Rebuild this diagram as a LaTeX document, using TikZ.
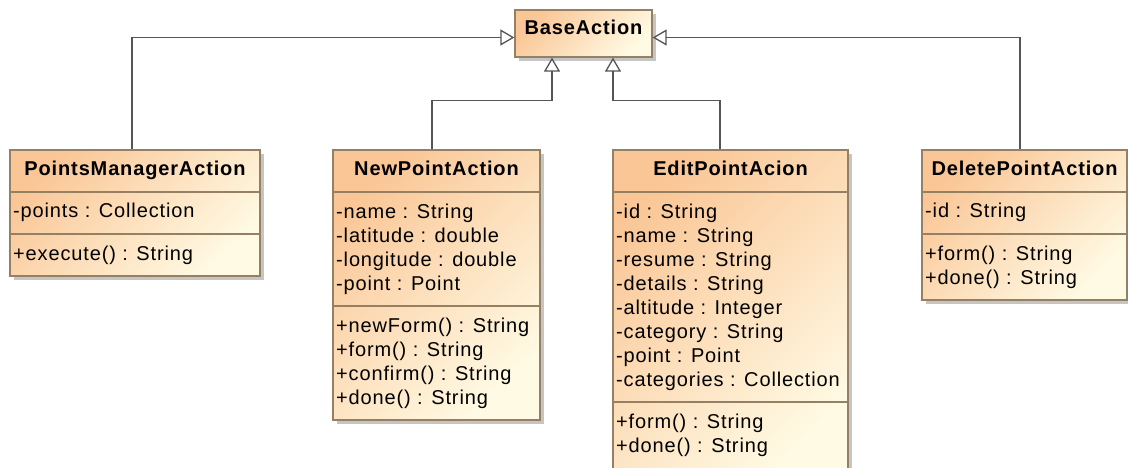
\documentclass[tikz,border=0pt]{standalone}
\usepackage{fontspec}
\setmainfont{Liberation Sans}[LetterSpace=4.3]
\usetikzlibrary{arrows.meta,shadows}
\definecolor{hdr}{RGB}{250,198,150}
\definecolor{lite}{RGB}{255,250,228}
\definecolor{bord}{RGB}{150,128,100}
\definecolor{connc}{RGB}{85,85,85}
\tikzset{
  classbox/.style={draw=bord, line width=1.2pt, top color=hdr, bottom color=lite,
    shading angle=45, rectangle, inner sep=0pt,
    drop shadow={shadow xshift=4pt, shadow yshift=-4pt, fill=black!45, opacity=0.5}},
  sepline/.style={draw=bord, line width=1.1pt},
  connline/.style={draw=connc, line width=1.3pt},
  gen/.style={connline, -{Triangle[open, length=14pt, width=16pt, fill=white]}},
  title/.style={font=\fontsize{20}{24}\selectfont\bfseries, anchor=base, inner sep=0pt},
  body/.style={font=\fontsize{20}{24}\selectfont, anchor=north west, align=left, inner sep=0pt},
}
\begin{document}
\begin{tikzpicture}[x=1pt,y=-1pt]
\useasboundingbox (0,0) rectangle (1128,468);

% BaseAction
\node[classbox, minimum width=137pt, minimum height=47pt] (base) at (583.5,33.5) {};
\node[title] (baset) at (583.5,35) {BaseAction};

% PointsManagerAction
\node[classbox, minimum width=250pt, minimum height=126pt] (pm) at (135,213) {};
\draw[sepline] (10,192) coordinate (pm1a) -- (260,192) coordinate (pm1b);
\draw[sepline] (10,234) coordinate (pm2a) -- (260,234) coordinate (pm2b);
\node[title] (pmt) at (135,176) {PointsManagerAction};
\node[body] (pma) at (13,201) {\strut-points : Collection};
\node[body] (pmm) at (13,243) {\strut+execute() : String};

% NewPointAction
\node[classbox, minimum width=207pt, minimum height=270pt] (np) at (436.5,285) {};
\draw[sepline] (333,192) coordinate (np1a) -- (540,192) coordinate (np1b);
\draw[sepline] (333,306) coordinate (np2a) -- (540,306) coordinate (np2b);
\node[title] (npt) at (436.5,176) {NewPointAction};
\node[body] (npa) at (336,201) {\strut-name : String\\\strut-latitude : double\\\strut-longitude : double\\\strut-point : Point};
\node[body] (npm) at (336,315) {\strut+newForm() : String\\\strut+form() : String\\\strut+confirm() : String\\\strut+done() : String};

% EditPointAcion
\node[classbox, minimum width=235pt, minimum height=330pt] (ep) at (730.5,315) {};
\draw[sepline] (613,192) coordinate (ep1a) -- (848,192) coordinate (ep1b);
\draw[sepline] (613,402) coordinate (ep2a) -- (848,402) coordinate (ep2b);
\node[title] (ept) at (730.5,176) {EditPointAcion};
\node[body] (epa) at (616,201) {\strut-id : String\\\strut-name : String\\\strut-resume : String\\\strut-details : String\\\strut-altitude : Integer\\\strut-category : String\\\strut-point : Point\\\strut-categories : Collection};
\node[body] (epm) at (616,411) {\strut+form() : String\\\strut+done() : String};

% DeletePointAction
\node[classbox, minimum width=205pt, minimum height=150pt] (dp) at (1024.5,225) {};
\draw[sepline] (922,192) coordinate (dp1a) -- (1127,192) coordinate (dp1b);
\draw[sepline] (922,234) coordinate (dp2a) -- (1127,234) coordinate (dp2b);
\node[title] (dpt) at (1024.5,176) {DeletePointAction};
\node[body] (dpa) at (925,201) {\strut-id : String};
\node[body] (dpm) at (925,243) {\strut+form() : String\\\strut+done() : String};

% generalizations
\draw[gen] ([xshift=-3pt]pm.north) |- ([yshift=-4pt]base.west);
\draw[gen] ([xshift=-4.5pt]np.north) -- ++(0,-49) -| ([xshift=-31.5pt]base.south);
\draw[gen] ([xshift=-10.5pt]ep.north) -- ++(0,-49) -| ([xshift=29.5pt]base.south);
\draw[gen] ([xshift=-4.5pt]dp.north) |- ([yshift=-4pt]base.east);
\end{tikzpicture}
\end{document}
